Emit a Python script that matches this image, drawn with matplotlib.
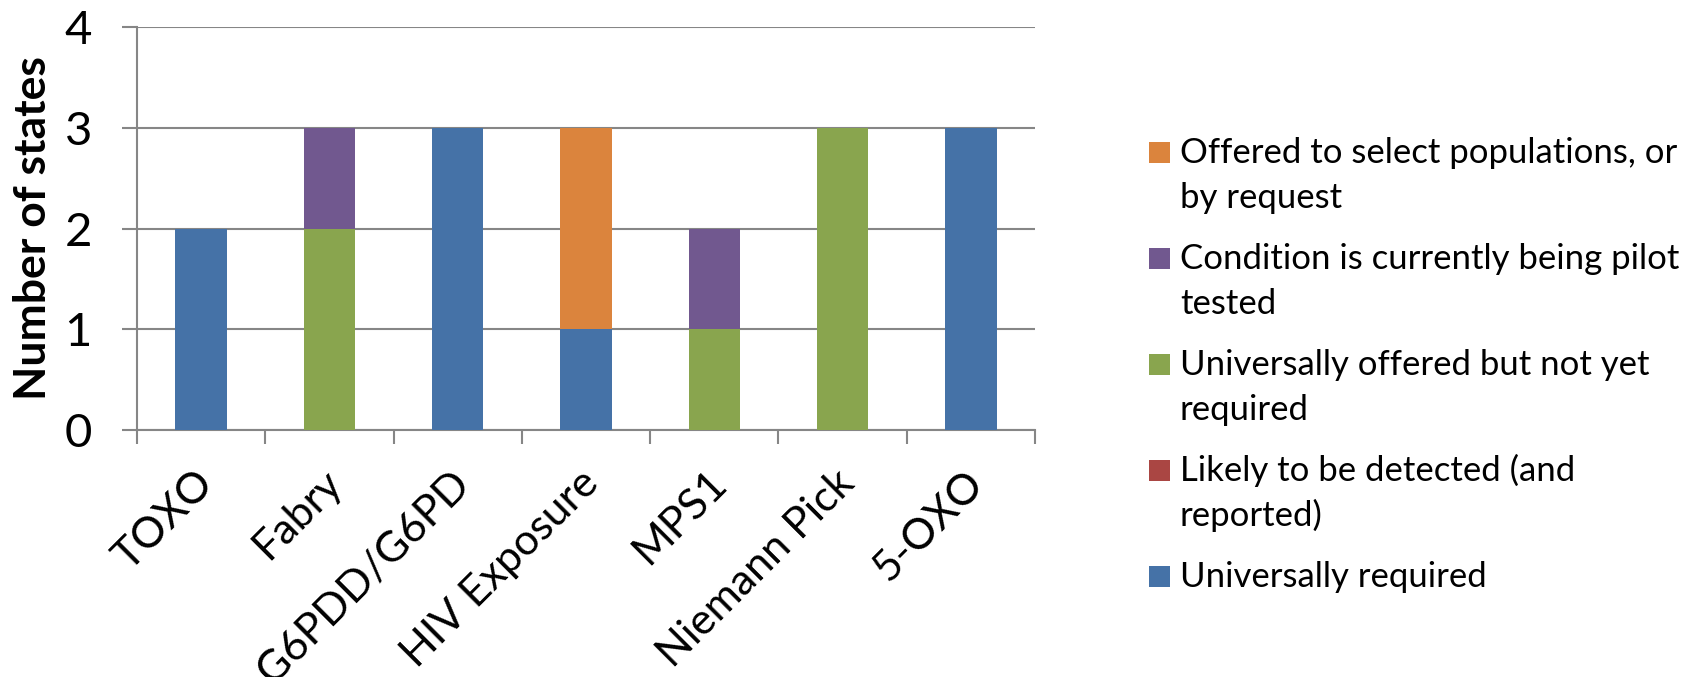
import numpy as np
import matplotlib
matplotlib.use("Agg")
import matplotlib.pyplot as plt
import matplotlib.transforms as mtransforms
from matplotlib.patches import Rectangle

# === DATA ===
categories = ["TOXO", "Fabry", "G6PDD/G6PD", "HIV Exposure", "MPS1", "Niemann Pick", "5-OXO"]

# stacked bottom -> top
series_names = [
    "Universally required",
    "Likely to be detected (and\nreported)",
    "Universally offered but not yet\nrequired",
    "Condition is currently being pilot\ntested",
    "Offered to select populations, or\nby request",
]
universally_required = [2, 0, 3, 1, 0, 0, 3]
likely_detected      = [0, 0, 0, 0, 0, 0, 0]
universally_offered  = [0, 2, 0, 0, 1, 3, 0]
pilot_tested         = [0, 1, 0, 0, 1, 0, 0]
select_populations   = [0, 0, 0, 2, 0, 0, 0]
series_values = [universally_required, likely_detected, universally_offered,
                 pilot_tested, select_populations]
series_colors = ["#4572A7", "#AA4643", "#89A54E", "#71588F", "#DB843D"]

y_ticks = [0, 1, 2, 3, 4]

# === STYLE ===
W, H = 1688, 677
GRID = "#868686"
plt.rcParams["font.family"] = ["Lato", "DejaVu Sans"]

fig = plt.figure(figsize=(W / 100, H / 100), dpi=100)
ax = fig.add_axes([137 / W, 1 - 430 / H, (1035 - 137) / W, (430 - 27) / H])

x = np.arange(len(categories))
bottom = np.zeros(len(categories))
for vals, col in zip(series_values, series_colors):
    vals = np.array(vals, dtype=float)
    ax.bar(x, vals, width=0.4, bottom=bottom, color=col, linewidth=0, zorder=3)
    bottom += vals

ax.set_xlim(-0.5, len(categories) - 0.5)
ax.set_ylim(0, 4)
ax.set_yticks(y_ticks)
ax.yaxis.grid(True, color=GRID, linewidth=1.5, zorder=0)
ax.tick_params(axis="y", length=10.5, width=1.5, color=GRID, pad=22, labelsize=34)

ax.set_xticks(x)
ax.set_xticklabels(categories)
ax.set_xticks(np.arange(len(categories) + 1) - 0.5, minor=True)
ax.tick_params(axis="x", which="major", length=0, pad=34, labelsize=31)
ax.tick_params(axis="x", which="minor", length=10, width=1.5, color=GRID)
shift = mtransforms.ScaledTranslation(6 / 100, 0, fig.dpi_scale_trans)
for lab in ax.get_xticklabels():
    lab.set_rotation(45)
    lab.set_ha("right")
    lab.set_va("center")
    lab.set_rotation_mode("anchor")
    lab.set_transform(lab.get_transform() + shift)

for s in ["top", "right"]:
    ax.spines[s].set_visible(False)
for s in ["left", "bottom"]:
    ax.spines[s].set_color(GRID)
    ax.spines[s].set_linewidth(1.5)

fig.text(33 / W, 1 - 228 / H, "Number of states", rotation=90, ha="center",
         va="center", fontsize=32, fontweight="bold")

# legend, drawn by hand so the square lines up with the first text line
leg_top = 142
leg_step = 106
line_gap = 45
for i, idx in enumerate(range(len(series_names) - 1, -1, -1)):
    ytop = leg_top + i * leg_step
    fig.patches.append(Rectangle((1149 / W, 1 - (ytop + 21) / H), 21 / W, 21 / H,
                                 transform=fig.transFigure, facecolor=series_colors[idx],
                                 edgecolor="none"))
    for j, line in enumerate(series_names[idx].split("\n")):
        fig.text(1180 / W, 1 - (ytop + 21 + j * line_gap) / H, line, ha="left",
                 va="baseline", fontsize=25)

fig.savefig("out.png", dpi=100)
